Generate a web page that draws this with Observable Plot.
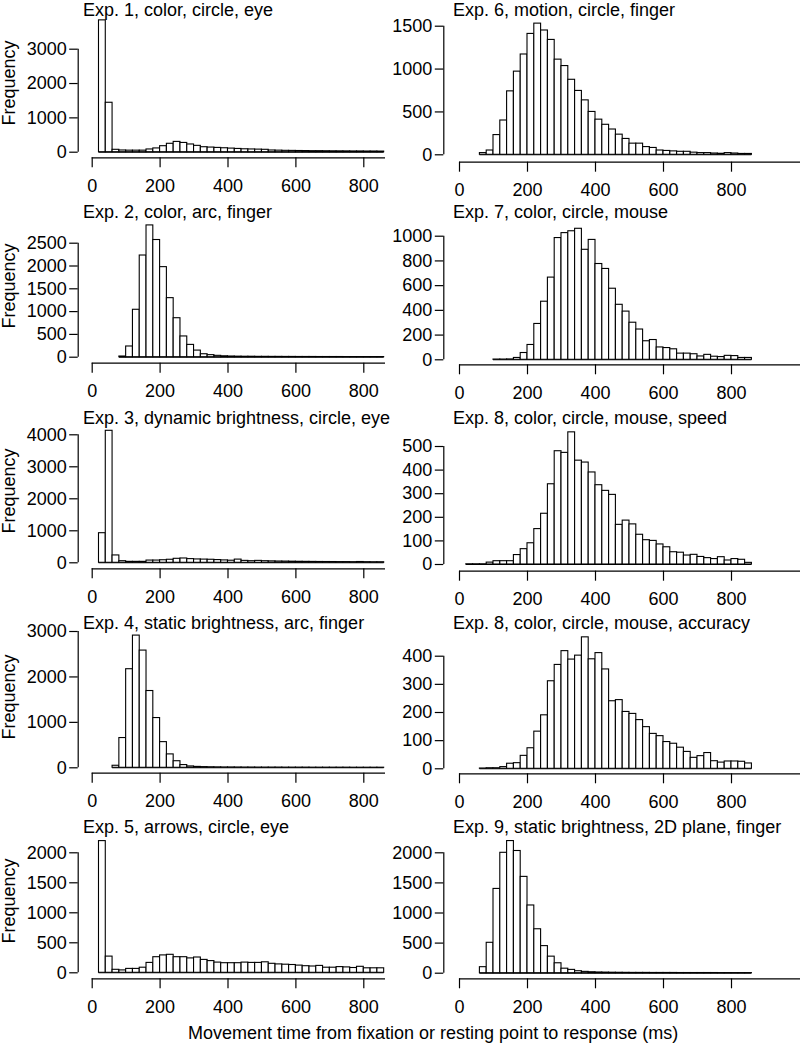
<!DOCTYPE html>
<html>
<head>
<meta charset="utf-8">
<script src="https://cdn.jsdelivr.net/npm/d3@7"></script>
<script src="https://cdn.jsdelivr.net/npm/@observablehq/plot@0.6"></script>
<style>
  body { margin: 0; background: #fff; }
  #root { position: relative; width: 800px; height: 1044px; overflow: hidden;
          font-family: "Liberation Sans", Arial, Helvetica, sans-serif; color: #000; background: #fff; }
  .panel { position: absolute; }
  .txt { position: absolute; font-size: 18px; line-height: 14px; white-space: nowrap; }
</style>
</head>
<body>
<div id="root"></div>
<script>
// ---------------- DATA ----------------
const binWidth = 20; // ms per histogram bin

const titles = [
  "Exp. 1, color, circle, eye",
  "Exp. 6, motion, circle, finger",
  "Exp. 2, color, arc, finger",
  "Exp. 7, color, circle, mouse",
  "Exp. 3, dynamic brightness, circle, eye",
  "Exp. 8, color, circle, mouse, speed",
  "Exp. 4, static brightness, arc, finger",
  "Exp. 8, color, circle, mouse, accuracy",
  "Exp. 5, arrows, circle, eye",
  "Exp. 9, static brightness, 2D plane, finger"
];

const xTicks = [0, 200, 400, 600, 800];
const yLabel = "Frequency";
const xLabel = "Movement time from fixation or resting point to response (ms)";

// first bin start (ms) and counts per 20 ms bin
const exp1Start = 20;
const exp1Counts = [3840,1440,70,50,45,45,45,80,110,175,245,300,270,225,185,145,135,125,115,105,95,85,80,75,70,50,45,40,38,35,33,30,30,28,26,25,24,22,22,20,20,18];
const exp1YTicks = [0, 1000, 2000, 3000];

const exp6Start = 60;
const exp6Counts = [20,50,230,400,740,970,1170,1410,1530,1450,1340,1110,1035,875,745,635,500,410,350,295,235,185,130,130,90,80,50,45,40,35,35,25,20,20,15,12,20,15,10,10];
const exp6YTicks = [0, 500, 1000, 1500];

const exp2Start = 80;
const exp2Counts = [15,235,1040,2230,2890,2570,1975,1295,855,455,270,145,65,45,30,20,15,12,10,10,8,8,7,7,6,6,5,5,5,4,4,4,4,3,3,3,3,3,3];
const exp2YTicks = [0, 500, 1000, 1500, 2000, 2500];

const exp7Start = 100;
const exp7Counts = [2,2,3,15,55,120,290,470,665,985,1025,1040,1060,890,970,775,735,575,445,390,300,245,150,160,100,95,85,50,50,45,27,40,25,22,32,30,15,15];
const exp7YTicks = [0, 200, 400, 600, 800, 1000];

const exp3Start = 20;
const exp3Counts = [925,4125,230,50,30,30,30,70,70,80,95,125,135,115,105,100,95,85,75,65,100,60,50,60,50,45,40,38,35,32,30,28,26,25,24,22,22,20,25,20,18,18];
const exp3YTicks = [0, 1000, 2000, 3000, 4000];

const exp8sStart = 20;
const exp8sCounts = [1,1,1,8,14,14,14,40,65,90,150,215,340,480,473,560,440,432,390,336,312,295,168,186,170,126,103,100,85,73,52,50,38,41,32,27,23,31,17,23,20,7];
const exp8sYTicks = [0, 100, 200, 300, 400, 500];

const exp4Start = 60;
const exp4Counts = [45,655,2170,2910,2580,1690,1095,565,295,145,60,30,20,15,12,10,8,8,7,6,6,5,5,5,5,4,4,4,4,3,3,3,3,3,3,2,2,2,2,2];
const exp4YTicks = [0, 1000, 2000, 3000];

const exp8aStart = 60;
const exp8aCounts = [1,2,2,6,18,20,46,73,132,190,311,369,418,388,402,467,389,411,353,240,244,202,195,173,148,124,116,95,89,75,60,39,45,56,27,22,26,26,25,19];
const exp8aYTicks = [0, 100, 200, 300, 400];

const exp5Start = 20;
const exp5Counts = [2195,270,50,40,65,65,85,165,260,290,300,260,260,240,255,215,195,170,160,160,160,170,165,165,175,150,140,135,130,120,110,105,115,85,85,95,90,80,100,75,75,75];
const exp5YTicks = [0, 500, 1000, 1500, 2000];

const exp9Start = 60;
const exp9Counts = [100,505,1400,2000,2195,2030,1600,1125,730,450,275,165,75,55,33,22,16,12,10,8,7,6,5,5,5,4,4,4,4,3,3,3,3,3,3,2,2,2,2,2];
const exp9YTicks = [0, 500, 1000, 1500, 2000];

// ---------------- LAYOUT (pixels) ----------------
const panelData = [
  {start: exp1Start,  counts: exp1Counts,  yTicks: exp1YTicks},
  {start: exp6Start,  counts: exp6Counts,  yTicks: exp6YTicks},
  {start: exp2Start,  counts: exp2Counts,  yTicks: exp2YTicks},
  {start: exp7Start,  counts: exp7Counts,  yTicks: exp7YTicks},
  {start: exp3Start,  counts: exp3Counts,  yTicks: exp3YTicks},
  {start: exp8sStart, counts: exp8sCounts, yTicks: exp8sYTicks},
  {start: exp4Start,  counts: exp4Counts,  yTicks: exp4YTicks},
  {start: exp8aStart, counts: exp8aCounts, yTicks: exp8aYTicks},
  {start: exp5Start,  counts: exp5Counts,  yTicks: exp5YTicks},
  {start: exp9Start,  counts: exp9Counts,  yTicks: exp9YTicks}
];

// y0: pixel of count 0, yTop: pixel of largest tick, axis: pixel of x-axis line
const panelLayout = [
  {y0: 151.7, yTop: 48.7,  axis: 157.3},
  {y0: 154.3, yTop: 25.7,  axis: 161.7},
  {y0: 356.7, yTop: 242.7, axis: 362.7},
  {y0: 359.3, yTop: 235.7, axis: 364.3},
  {y0: 562.3, yTop: 434.3, axis: 568.3},
  {y0: 564.0, yTop: 446.0, axis: 570.7},
  {y0: 767.3, yTop: 631.0, axis: 772.7},
  {y0: 768.3, yTop: 655.7, axis: 773.3},
  {y0: 972.3, yTop: 852.3, axis: 978.3},
  {y0: 972.7, yTop: 852.3, axis: 978.3}
];
const colLayout = [
  {left: 0,   zero: 91.7, px800: 363.3, yAxis: 77.7, right: 385, titleX: 83},
  {left: 400, zero: 59,   px800: 331,   yAxis: 43.3, right: 400, titleX: 53}
];
const rowH = 205;
const titleBase = [16.6, 218, 424.5, 629.5, 833.5];
const freqCenter = [82.5, 285.5, 490.8, 696.7, 900.8];
const baseOffset = 13.2; // baseline offset inside a 14px line box at 18px

const FONT = '"Liberation Sans", Arial, Helvetica, sans-serif';
const root = document.getElementById("root");

panelData.forEach((p, i) => {
  const col = i % 2, row = Math.floor(i / 2);
  const C = colLayout[col], L = panelLayout[i];
  const top = row * rowH, W = 400, H = rowH;
  const k = (C.px800 - C.zero) / 800;
  const xDomain = [(C.yAxis - C.zero) / k, (C.right - C.zero) / k];
  const tMax = p.yTicks[p.yTicks.length - 1];
  const ppu = (L.y0 - L.yTop) / tMax;
  const marginTop = 14;
  const axisLocal = L.axis - top;
  const y0Local = L.y0 - top;
  const yDomain = [-(L.axis - L.y0) / ppu, (y0Local - marginTop) / ppu];

  const bins = p.counts.map((c, j) => ({x1: p.start + j * binWidth, x2: p.start + (j + 1) * binWidth, count: c}));
  const firstEdge = bins[0].x1, lastEdge = bins[bins.length - 1].x2;

  const svg = Plot.plot({
    width: W, height: H,
    marginLeft: C.yAxis, marginRight: W - C.right,
    marginTop, marginBottom: H - axisLocal,
    x: {domain: xDomain},
    y: {domain: yDomain},
    style: {fontSize: "18px", fontFamily: FONT, color: "#000", background: "transparent", overflow: "visible"},
    marks: [
      Plot.ruleY([0], {x1: firstEdge, x2: lastEdge, stroke: "#000", strokeWidth: 1.1}),
      Plot.rectY(bins, {x1: "x1", x2: "x2", y1: 0, y2: "count", fill: "#fff", stroke: "#000", strokeWidth: 1.1}),
      Plot.ruleX([xDomain[0]], {y1: 0, y2: tMax, stroke: "#000", strokeWidth: 1.2}),
      Plot.ruleY([yDomain[0]], {x1: 0, x2: xDomain[1], stroke: "#000", strokeWidth: 1.2}),
      Plot.axisX(xTicks, {tickSize: 10, tickPadding: 11, tickFormat: d => String(d), label: null, strokeWidth: 1.2, fontSize: 18}),
      Plot.axisY(p.yTicks, {tickSize: 8.5, tickPadding: 3, tickFormat: d => String(d), label: null, strokeWidth: 1.2, fontSize: 18})
    ]
  });
  svg.classList.add("panel");
  svg.style.left = C.left + "px";
  svg.style.top = top + "px";
  root.appendChild(svg);

  const t = document.createElement("div");
  t.className = "txt";
  t.textContent = titles[i];
  t.style.left = (C.left + C.titleX) + "px";
  t.style.top = (titleBase[row] - baseOffset) + "px";
  root.appendChild(t);

  if (col === 0) {
    const f = document.createElement("div");
    f.className = "txt";
    f.textContent = yLabel;
    f.style.left = "8.5px";
    f.style.top = freqCenter[row] + "px";
    f.style.transform = "translate(-50%, -50%) rotate(-90deg)";
    root.appendChild(f);
  }
});

const xl = document.createElement("div");
xl.className = "txt";
xl.textContent = xLabel;
xl.style.left = "188px";
xl.style.top = (1039.5 - baseOffset) + "px";
root.appendChild(xl);
</script>
</body>
</html>
